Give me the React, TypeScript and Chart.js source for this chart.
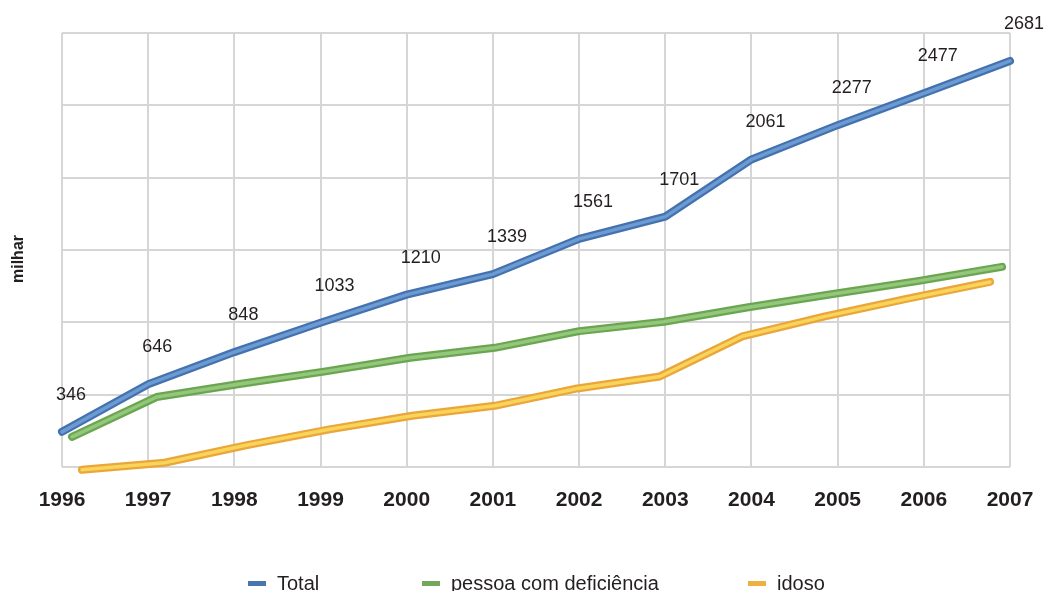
import React, { useEffect, useRef } from "react";
import { Chart, registerables } from "chart.js";

Chart.register(...registerables);

// ---------- data ----------
const years = ["1996", "1997", "1998", "1999", "2000", "2001", "2002", "2003", "2004", "2005", "2006", "2007"];
const totalValues = [346, 646, 848, 1033, 1210, 1339, 1561, 1701, 2061, 2277, 2477, 2681];
const deficienciaValues = [304, 557, 641, 720, 807, 870, 976, 1036, 1128, 1212, 1294, 1385];
const idosoValues = [42, 89, 207, 312, 403, 469, 585, 665, 933, 1066, 1184, 1296];
const seriesLabels = ["Total", "pessoa com deficiência", "idoso"];
const yAxisTitle = "milhar";

// ---------- styles ----------
const FONT = '"Liberation Sans", Arial, Helvetica, sans-serif';
const TEXT = "#231f20";
const GRID = "#d6d6d6";
const outerColors = ["#4472ae", "#6aa650", "#eaa63c"];
const innerColors = ["#6c9bd4", "#94c77c", "#f8d458"];
const legendColors = ["#4a76b0", "#72a85c", "#f0b040"];
const legendX = [248, 422, 748];

// 3D depth: the back series use their own (hidden) scales
const depthScales = {
  xDef: { min: 1995.8817, max: 2007.0946 },
  yDef: { min: 113.2, max: 2872.2 },
  xIdoso: { min: 1995.7577, max: 2007.2423 },
  yIdoso: { min: 62.0, max: 2957.3 },
};

const decorPlugin = {
  id: "decor",
  afterDatasetsDraw(chart: any) {
    const ctx = chart.ctx as CanvasRenderingContext2D;
    const meta = chart.getDatasetMeta(1);
    ctx.save();
    // data labels for Total
    ctx.font = `18px ${FONT}`;
    ctx.fillStyle = TEXT;
    ctx.textAlign = "left";
    ctx.textBaseline = "middle";
    meta.data.forEach((pt: any, i: number) => {
      ctx.fillText(String(totalValues[i]), pt.x - 6, pt.y - 37);
    });
    ctx.restore();

    // y axis title
    ctx.save();
    ctx.translate(19, 259);
    ctx.rotate(-Math.PI / 2);
    ctx.font = `bold 16px ${FONT}`;
    ctx.fillStyle = TEXT;
    ctx.textAlign = "center";
    ctx.textBaseline = "middle";
    ctx.fillText(yAxisTitle, 0, 0);
    ctx.restore();

    // legend
    ctx.save();
    ctx.font = `20px ${FONT}`;
    ctx.textAlign = "left";
    ctx.textBaseline = "middle";
    seriesLabels.forEach((label, i) => {
      ctx.fillStyle = legendColors[i];
      ctx.fillRect(legendX[i], 581, 18, 5);
      ctx.fillStyle = TEXT;
      ctx.fillText(label, legendX[i] + 29, 584);
    });
    ctx.restore();
  },
};

function lineDs(label: string, data: number[], color: string, width: number, order: number, xAxisID: string, yAxisID: string) {
  return {
    label,
    data,
    borderColor: color,
    backgroundColor: color,
    borderWidth: width,
    pointRadius: 0,
    pointHoverRadius: 0,
    tension: 0,
    borderJoinStyle: "round" as const,
    borderCapStyle: "round" as const,
    fill: false,
    clip: false as any,
    order,
    xAxisID,
    yAxisID,
  };
}

export default function App() {
  const canvasRef = useRef<HTMLCanvasElement | null>(null);

  useEffect(() => {
    if (!canvasRef.current) return;
    const chart = new Chart(canvasRef.current, {
      type: "line",
      data: {
        labels: years,
        datasets: [
          lineDs(seriesLabels[0] + " hi", totalValues, innerColors[0], 3.5, 0, "x", "y"),
          lineDs(seriesLabels[0], totalValues, outerColors[0], 8, 1, "x", "y"),
          lineDs(seriesLabels[1] + " hi", deficienciaValues, innerColors[1], 3.5, 2, "xDef", "yDef"),
          lineDs(seriesLabels[1], deficienciaValues, outerColors[1], 8, 3, "xDef", "yDef"),
          lineDs(seriesLabels[2] + " hi", idosoValues, innerColors[2], 3.5, 4, "xIdoso", "yIdoso"),
          lineDs(seriesLabels[2], idosoValues, outerColors[2], 8, 5, "xIdoso", "yIdoso"),
        ],
      },
      options: {
        animation: false,
        responsive: true,
        maintainAspectRatio: false,
        layout: { padding: { left: 62, right: 38, top: 33, bottom: 78 } },
        plugins: {
          legend: { display: false },
          tooltip: { enabled: false },
          title: { display: false },
        },
        scales: {
          x: {
            type: "linear",
            axis: "x",
            position: "bottom",
            min: 1996,
            max: 2007,
            grid: { color: GRID, lineWidth: 2, drawTicks: true, tickLength: 21, tickColor: "rgba(0,0,0,0)" },
            border: { display: false },
            ticks: {
              stepSize: 1,
              padding: 0,
              maxRotation: 0,
              autoSkip: false,
              color: TEXT,
              font: { family: FONT, size: 21, weight: "bold" },
              callback: (v: any) => {
                const idx = years.indexOf(String(v));
                return idx >= 0 ? years[idx] : "";
              },
            },
          },
          y: {
            type: "linear",
            axis: "y",
            position: "left",
            min: 126,
            max: 2857,
            grid: { color: GRID, lineWidth: 2, drawTicks: false },
            border: { display: false },
            ticks: { display: false, count: 7 },
          },
          xDef: { type: "linear", axis: "x", position: "bottom", display: false, ...depthScales.xDef },
          yDef: { type: "linear", axis: "y", position: "left", display: false, ...depthScales.yDef },
          xIdoso: { type: "linear", axis: "x", position: "bottom", display: false, ...depthScales.xIdoso },
          yIdoso: { type: "linear", axis: "y", position: "left", display: false, ...depthScales.yIdoso },
        } as any,
      },
      plugins: [decorPlugin],
    });
    return () => chart.destroy();
  }, []);

  return (
    <div style={{ position: "fixed", left: 0, top: 0, width: 1048, height: 591, background: "#fff", overflow: "hidden" }}>
      <canvas ref={canvasRef} />
    </div>
  );
}
